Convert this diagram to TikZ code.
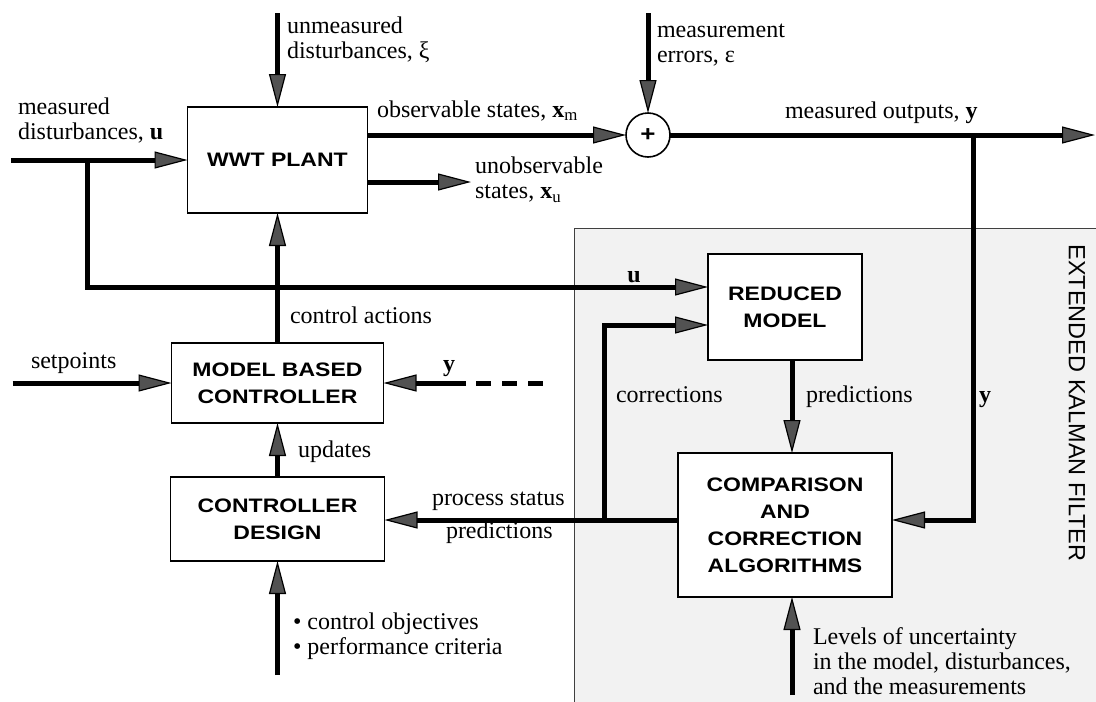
\documentclass[tikz,border=0pt]{standalone}
\usepackage{fontspec}
\setmainfont{Liberation Serif}
\newfontfamily\boxfont[FakeStretch=1.18]{Liberation Sans}
\newfontfamily\panelfont{Liberation Sans}
\usetikzlibrary{arrows.meta,calc}

\begin{document}
\begin{tikzpicture}[x=1pt,y=-1pt,
  every node/.style={inner sep=0pt, outer sep=0pt},
  lbl/.style={font=\fontsize{24}{25}\selectfont, align=left, text=black},
  block/.style={draw, line width=1.6pt, fill=white, align=center,
    font=\boxfont\bfseries\fontsize{19.5}{27}\selectfont},
  flow/.style={line width=5pt,
    -{Triangle[length=33pt,width=17pt,fill=black!68,line width=1.2pt]}},
  wire/.style={line width=5pt}
]
\useasboundingbox (0,0) rectangle (1096,702);

% Extended Kalman filter panel
\fill[black!5] (574,228) rectangle (1096,702);
\draw[line width=0.8pt, black!75] (574,702) -- (574,228) -- (1096,228);
\node[font=\panelfont\fontsize{23.5}{28}\selectfont, rotate=-90] (ekf) at (1077,403) {EXTENDED KALMAN FILTER};

% blocks
\node[block, minimum width=180pt, minimum height=106pt] (plant) at (277.5,160) {WWT PLANT};
\node[draw, circle, line width=1.6pt, minimum size=44pt, fill=white,
      font=\boxfont\bfseries\fontsize{22}{22}\selectfont] (sum) at (648,135) {+};
\node[block, minimum width=154pt, minimum height=106pt] (rm) at (785,307) {REDUCED\\MODEL};
\node[block, minimum width=214pt, minimum height=144pt] (cmp) at (785,525) {COMPARISON\\AND\\CORRECTION\\ALGORITHMS};
\node[block, minimum width=212pt, minimum height=80pt] (mbc) at (277.5,383) {MODEL BASED\\CONTROLLER};
\node[block, minimum width=214pt, minimum height=84pt] (cd) at (277.5,519) {CONTROLLER\\DESIGN};

% free ends and corners
\coordinate (xiTop) at (277.5,13);
\coordinate (epsTop) at (648,13);
\coordinate (uIn) at (11,160);
\coordinate (uBranch) at (87.5,160);
\coordinate (uCorner) at (87.5,287);
\coordinate (xuEnd) at (471,182);
\coordinate (yOut) at (1095,135);
\coordinate (yBranch) at (973,135);
\coordinate (yCorner) at (973,520);
\coordinate (corrFoot) at (604,520);
\coordinate (corrCorner) at (604,325);
\coordinate (spIn) at (12.5,383);
\coordinate (yFb) at (466,383);
\coordinate (dashStart) at (476,383);
\coordinate (dashEnd) at (543,383);
\coordinate (objFoot) at (277.5,675);
\coordinate (lvlFoot) at (792,695);

% plant inputs and outputs
\draw[flow] (xiTop) -- (plant);
\draw[flow] (uIn) -- (plant.west);
\draw[flow] (uBranch) -- (uCorner) -- (uCorner -| rm.west);
\draw[flow] (plant.east |- sum.west) -- (sum);
\draw[flow] (plant.east |- xuEnd) -- (xuEnd);
\draw[flow] (epsTop) -- (sum);
\draw[flow] (sum) -- (yOut);

% Kalman filter loop
\draw[flow] (yBranch) -- (yCorner) -- (cmp.east |- yCorner);
\draw[flow] ($(rm.south)+(7,0)$) -- ($(cmp.north)+(7,0)$);
\draw[flow] (cmp.west |- corrFoot) -- (cd.east |- corrFoot);
\draw[flow] (corrFoot) -- (corrCorner) -- (corrCorner -| rm.west);
\draw[flow] (lvlFoot) -- (lvlFoot |- cmp.south);

% controller
\draw[flow] (mbc) -- (plant);
\draw[flow] (cd) -- (mbc);
\draw[flow] (objFoot) -- (cd);
\draw[flow] (spIn) -- (mbc);
\draw[flow] (yFb) -- (mbc);
\draw[wire, dash pattern=on 15pt off 11pt] (dashStart) -- (dashEnd);

% labels
\node[lbl, anchor=west] (lXi) at (287,40) {unmeasured\\disturbances, ξ};
\node[lbl, anchor=west] (lU) at (18,121) {measured\\disturbances, \textbf{u}};
\node[lbl, anchor=base west] (lXm) at (377,117) {observable states, \textbf{x}\textsubscript{m}};
\node[lbl, anchor=west] (lXu) at (475,180) {unobservable\\states, \textbf{x}\textsubscript{u}};
\node[lbl, anchor=west] (lEps) at (657,45) {measurement\\errors, ε};
\node[lbl, anchor=base west] (lY) at (785,118) {measured outputs, \textbf{y}};
\node[lbl, anchor=base] (lU2) at (634,282) {\textbf{u}};
\node[lbl, anchor=base west] (lCorr) at (616,402) {corrections};
\node[lbl, anchor=base west] (lPred) at (806,402) {predictions};
\node[lbl, anchor=base] (lY2) at (985,402) {\textbf{y}};
\node[lbl, anchor=base west] (lCa) at (290,323) {control actions};
\node[lbl, anchor=base west] (lSp) at (31,368) {setpoints};
\node[lbl, anchor=base] (lY3) at (449,371) {\textbf{y}};
\node[lbl, anchor=base west] (lUpd) at (298,457) {updates};
\node[lbl, anchor=base west] (lPs) at (432,505) {process status};
\node[lbl, anchor=base west] (lPred2) at (446,538) {predictions};
\node[lbl, anchor=west] (lObj) at (293,636) {\textbullet\ control objectives\\\textbullet\ performance criteria};
\node[lbl, anchor=west] (lLvl) at (813,661) {Levels of uncertainty\\in the model, disturbances,\\and the measurements};
\end{tikzpicture}
\end{document}
